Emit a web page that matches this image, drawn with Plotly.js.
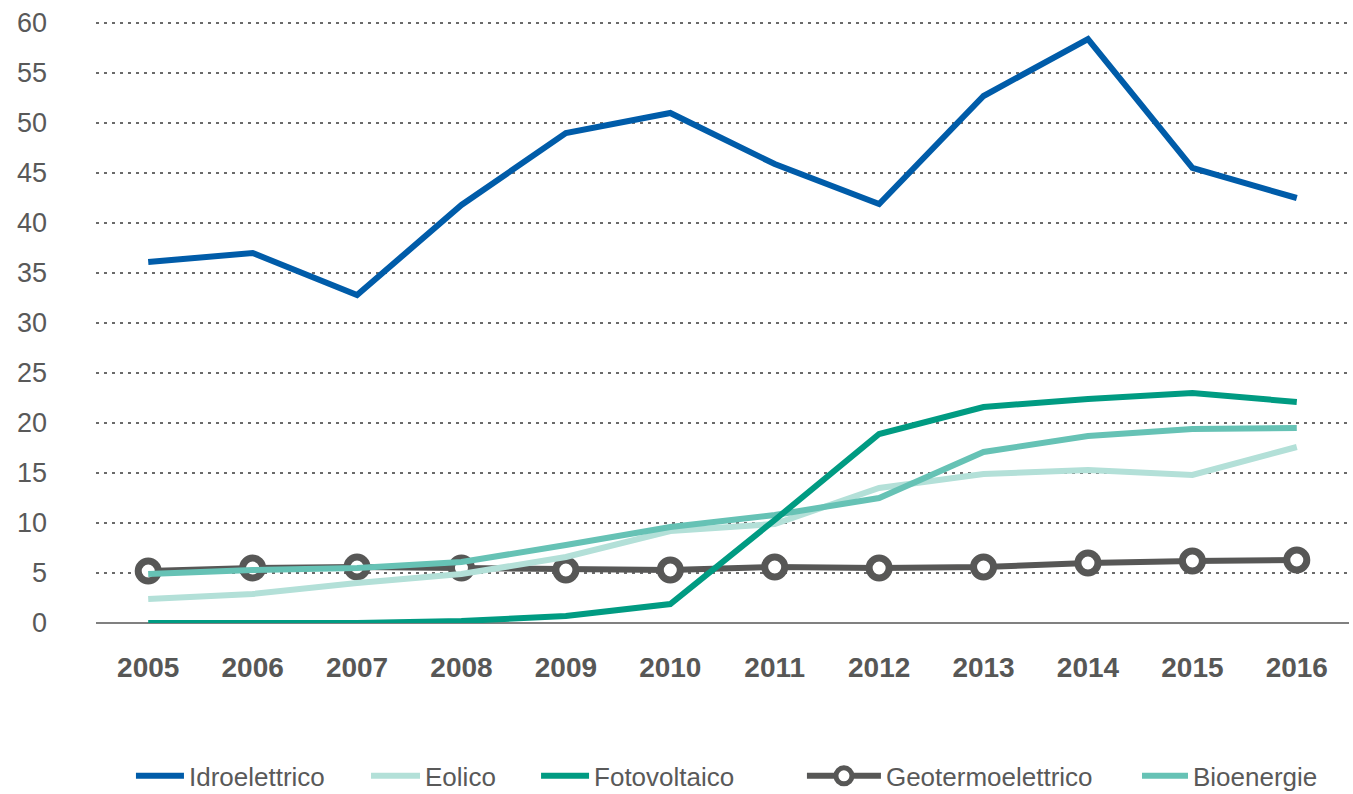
<!DOCTYPE html>
<html><head><meta charset="utf-8">
<script src="https://cdn.plot.ly/plotly-3.0.1.min.js"></script>
<style>html,body{margin:0;padding:0;background:#fff;} #chart{width:1353px;height:794px;}</style>
</head><body><div id="chart"></div>
<script>
const years = ['2005','2006','2007','2008','2009','2010','2011','2012','2013','2014','2015','2016'];
const idroelettrico = [36.1,37.0,32.8,41.8,49.0,51.0,45.9,41.9,52.7,58.4,45.5,42.5];
const eolico = [2.4,2.9,4.0,4.9,6.6,9.2,9.9,13.5,14.9,15.3,14.8,17.6];
const fotovoltaico = [0.0,0.0,0.0,0.2,0.7,1.9,10.3,18.9,21.6,22.4,23.0,22.1];
const geotermoelettrico = [5.2,5.5,5.6,5.5,5.3,5.3,5.6,5.5,5.6,6.0,6.2,6.3];
const bioenergie = [4.9,5.3,5.5,6.1,7.8,9.6,10.8,12.5,17.1,18.7,19.4,19.5];
const yTicks = [0,5,10,15,20,25,30,35,40,45,50,55,60];
const seriesNames = ['Idroelettrico','Eolico','Fotovoltaico','Geotermoelettrico','Bioenergie'];

const FONT = 'Liberation Sans, Arial, Helvetica, sans-serif';
const TXT = '#595959';

function lineTrace(name, values, color, legendId) {
  return {
    type: 'scatter', mode: 'lines', name: name, x: years, y: values,
    line: {color: color, width: 6}, cliponaxis: false, legend: legendId, hoverinfo: 'skip'
  };
}

const traces = [
  {
    type: 'scatter', mode: 'lines+markers', name: seriesNames[3], x: years, y: geotermoelettrico,
    line: {color: '#575756', width: 6},
    marker: {symbol: 'circle', size: 20, color: '#ffffff', line: {color: '#575756', width: 7}},
    cliponaxis: false, legend: 'legend4', hoverinfo: 'skip'
  },
  lineTrace(seriesNames[0], idroelettrico, '#005ca9', 'legend'),
  lineTrace(seriesNames[1], eolico, '#b3e0d8', 'legend2'),
  lineTrace(seriesNames[4], bioenergie, '#66c2b5', 'legend5'),
  lineTrace(seriesNames[2], fotovoltaico, '#009b82', 'legend3')
];

function legendCfg(x, iw) {
  return {
    orientation: 'h', x: x, xanchor: 'left', y: -0.254, yanchor: 'middle',
    font: {family: FONT, size: 26, color: TXT}, itemwidth: iw,
    bgcolor: 'rgba(0,0,0,0)', borderwidth: 0
  };
}

const layout = {
  width: 1353, height: 794,
  margin: {l: 96, r: 4, t: 21, b: 171, autoexpand: false},
  paper_bgcolor: '#ffffff', plot_bgcolor: '#ffffff',
  font: {family: FONT, color: TXT},
  showlegend: true,
  xaxis: {
    type: 'category', range: [-0.5, 11.5], showgrid: false, zeroline: false, showline: false,
    ticks: '', tickfont: {family: FONT, size: 28, color: '#575756', weight: 'bold'},
    ticklabelstandoff: 25, fixedrange: true, automargin: false
  },
  yaxis: {
    range: [0, 60.2], tickmode: 'array', tickvals: yTicks, ticktext: yTicks.map(String),
    showgrid: true, gridcolor: '#6a6a6a', gridwidth: 2, griddash: '3px,5px',
    zeroline: true, zerolinecolor: '#808080', zerolinewidth: 2, showline: false,
    ticks: '', tickfont: {family: FONT, size: 27, color: TXT},
    ticklabelstandoff: 48, fixedrange: true, automargin: false
  },
  legend: legendCfg(0.0279, 48),
  legend2: legendCfg(0.2155, 49),
  legend3: legendCfg(0.3512, 48),
  legend4: legendCfg(0.5634, 74),
  legend5: legendCfg(0.8308, 46)
};

Plotly.newPlot('chart', traces, layout, {displayModeBar: false, staticPlot: true});
</script>
</body></html>
